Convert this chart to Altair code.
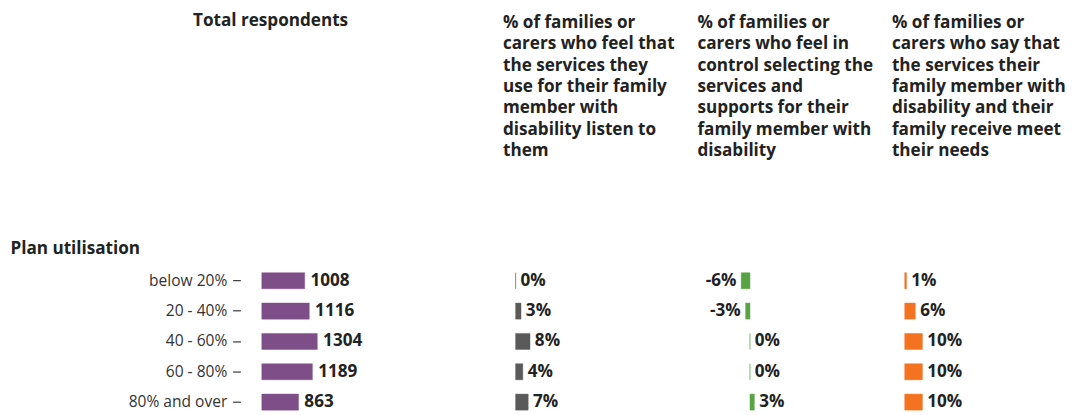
import altair as alt
import pandas as pd

# ---- data ----
groups = ["below 20%", "20 - 40%", "40 - 60%", "60 - 80%", "80% and over"]
total_respondents = [1008, 1116, 1304, 1189, 863]
listen_pct = [0, 3, 8, 4, 7]
control_pct = [-6, -3, 0, 0, 3]
needs_pct = [1, 6, 10, 10, 10]

section_title = "Plan utilisation"
total_header = ["Total respondents"]
listen_header = ["% of families or", "carers who feel that", "the services they",
                 "use for their family", "member with", "disability listen to", "them"]
control_header = ["% of families or", "carers who feel in", "control selecting the",
                  "services and", "supports for their", "family member with", "disability"]
needs_header = ["% of families or", "carers who say that", "the services their",
                "family member with", "disability and their", "family receive meet",
                "their needs"]

df = pd.DataFrame({
    "group": groups,
    "total": total_respondents,
    "listen": listen_pct,
    "control": control_pct,
    "needs": needs_pct,
})

FONT = "Open Sans"
FS = 17.6
HFS = 17.6
TXT = "#222222"
PURPLE = "#7e4e88"
GRAY = "#5a5a5a"
GREEN = "#58a444"
ORANGE = "#f47321"
H = 156
TITLE_OFF = 109


def yenc(axis=None):
    return alt.Y("group:N", sort=groups, title=None,
                 scale=alt.Scale(paddingInner=0.47, paddingOuter=0.235),
                 axis=axis)


def title(lines, anchor="start", dx=0, offset=TITLE_OFF):
    return alt.TitleParams(text=lines, anchor=anchor, frame="group", dx=dx,
                           baseline="top", offset=offset, font=FONT, fontSize=HFS,
                           fontWeight="bold", color=TXT, lineHeight=22)


yaxis = alt.Axis(title=section_title, titleAngle=0, titleAlign="left",
                 titleBaseline="alphabetic", titleX=-237, titleY=-12.5,
                 titleFont=FONT, titleFontSize=FS, titleFontWeight="bold",
                 titleColor=TXT, labelFont=FONT, labelFontSize=16,
                 labelColor="#333333", labelPadding=6, tickSize=8,
                 tickColor="#333333", tickWidth=1.2, domain=False, offset=22,
                 labelLimit=300)

baseA = alt.Chart(df)
xA = alt.X("total:Q", scale=alt.Scale(domain=[0, 5669], nice=False, zero=False), axis=None)
barsA = baseA.mark_bar(color=PURPLE, stroke=PURPLE, strokeOpacity=0.45,
                       strokeWidth=1).encode(x=xA, y=yenc(yaxis))
textA = baseA.mark_text(align="left", baseline="middle", dx=6, font=FONT,
                        fontSize=FS, fontWeight="bold", color=TXT).encode(
    x=xA, y=yenc(yaxis), text="total:Q")
colA = (barsA + textA).properties(width=248, height=H,
                                  title=title(total_header, anchor="middle", dx=-115,
                                              offset=TITLE_OFF - 25 + 132))


def pct_col(field, color, domain, width, header):
    base = alt.Chart(df).transform_calculate(label=f"datum.{field} + '%'")
    x = alt.X(f"{field}:Q", scale=alt.Scale(domain=domain, nice=False, zero=False), axis=None)
    bars = base.mark_bar(color=color, stroke=color, strokeOpacity=0.45,
                         strokeWidth=1).encode(x=x, y=yenc())
    pos = base.transform_filter(f"datum.{field} >= 0").mark_text(
        align="left", baseline="middle", dx=5, font=FONT, fontSize=FS,
        fontWeight="bold", color=TXT).encode(x=x, y=yenc(), text="label:N")
    neg = base.transform_filter(f"datum.{field} < 0").mark_text(
        align="right", baseline="middle", dx=-5, font=FONT, fontSize=FS,
        fontWeight="bold", color=TXT).encode(x=x, y=yenc(), text="label:N")
    return (bars + pos + neg).properties(width=width, height=H, title=title(header))


colB = pct_col("listen", GRAY, [-7.03, 101.1], 200, listen_header)
colC = pct_col("control", GREEN, [-36.0, 97.3], 200, control_header)
colD = pct_col("needs", ORANGE, [-7.22, 78], 155, needs_header)

chart = alt.hconcat(colA, colB, colC, colD, spacing=0, bounds="flush").properties(
    padding={"left": 2, "top": -2, "right": 0, "bottom": 0},
    background="white",
).configure_view(stroke=None)

chart.save("out.html", embed_options={"renderer": "svg", "actions": False})
